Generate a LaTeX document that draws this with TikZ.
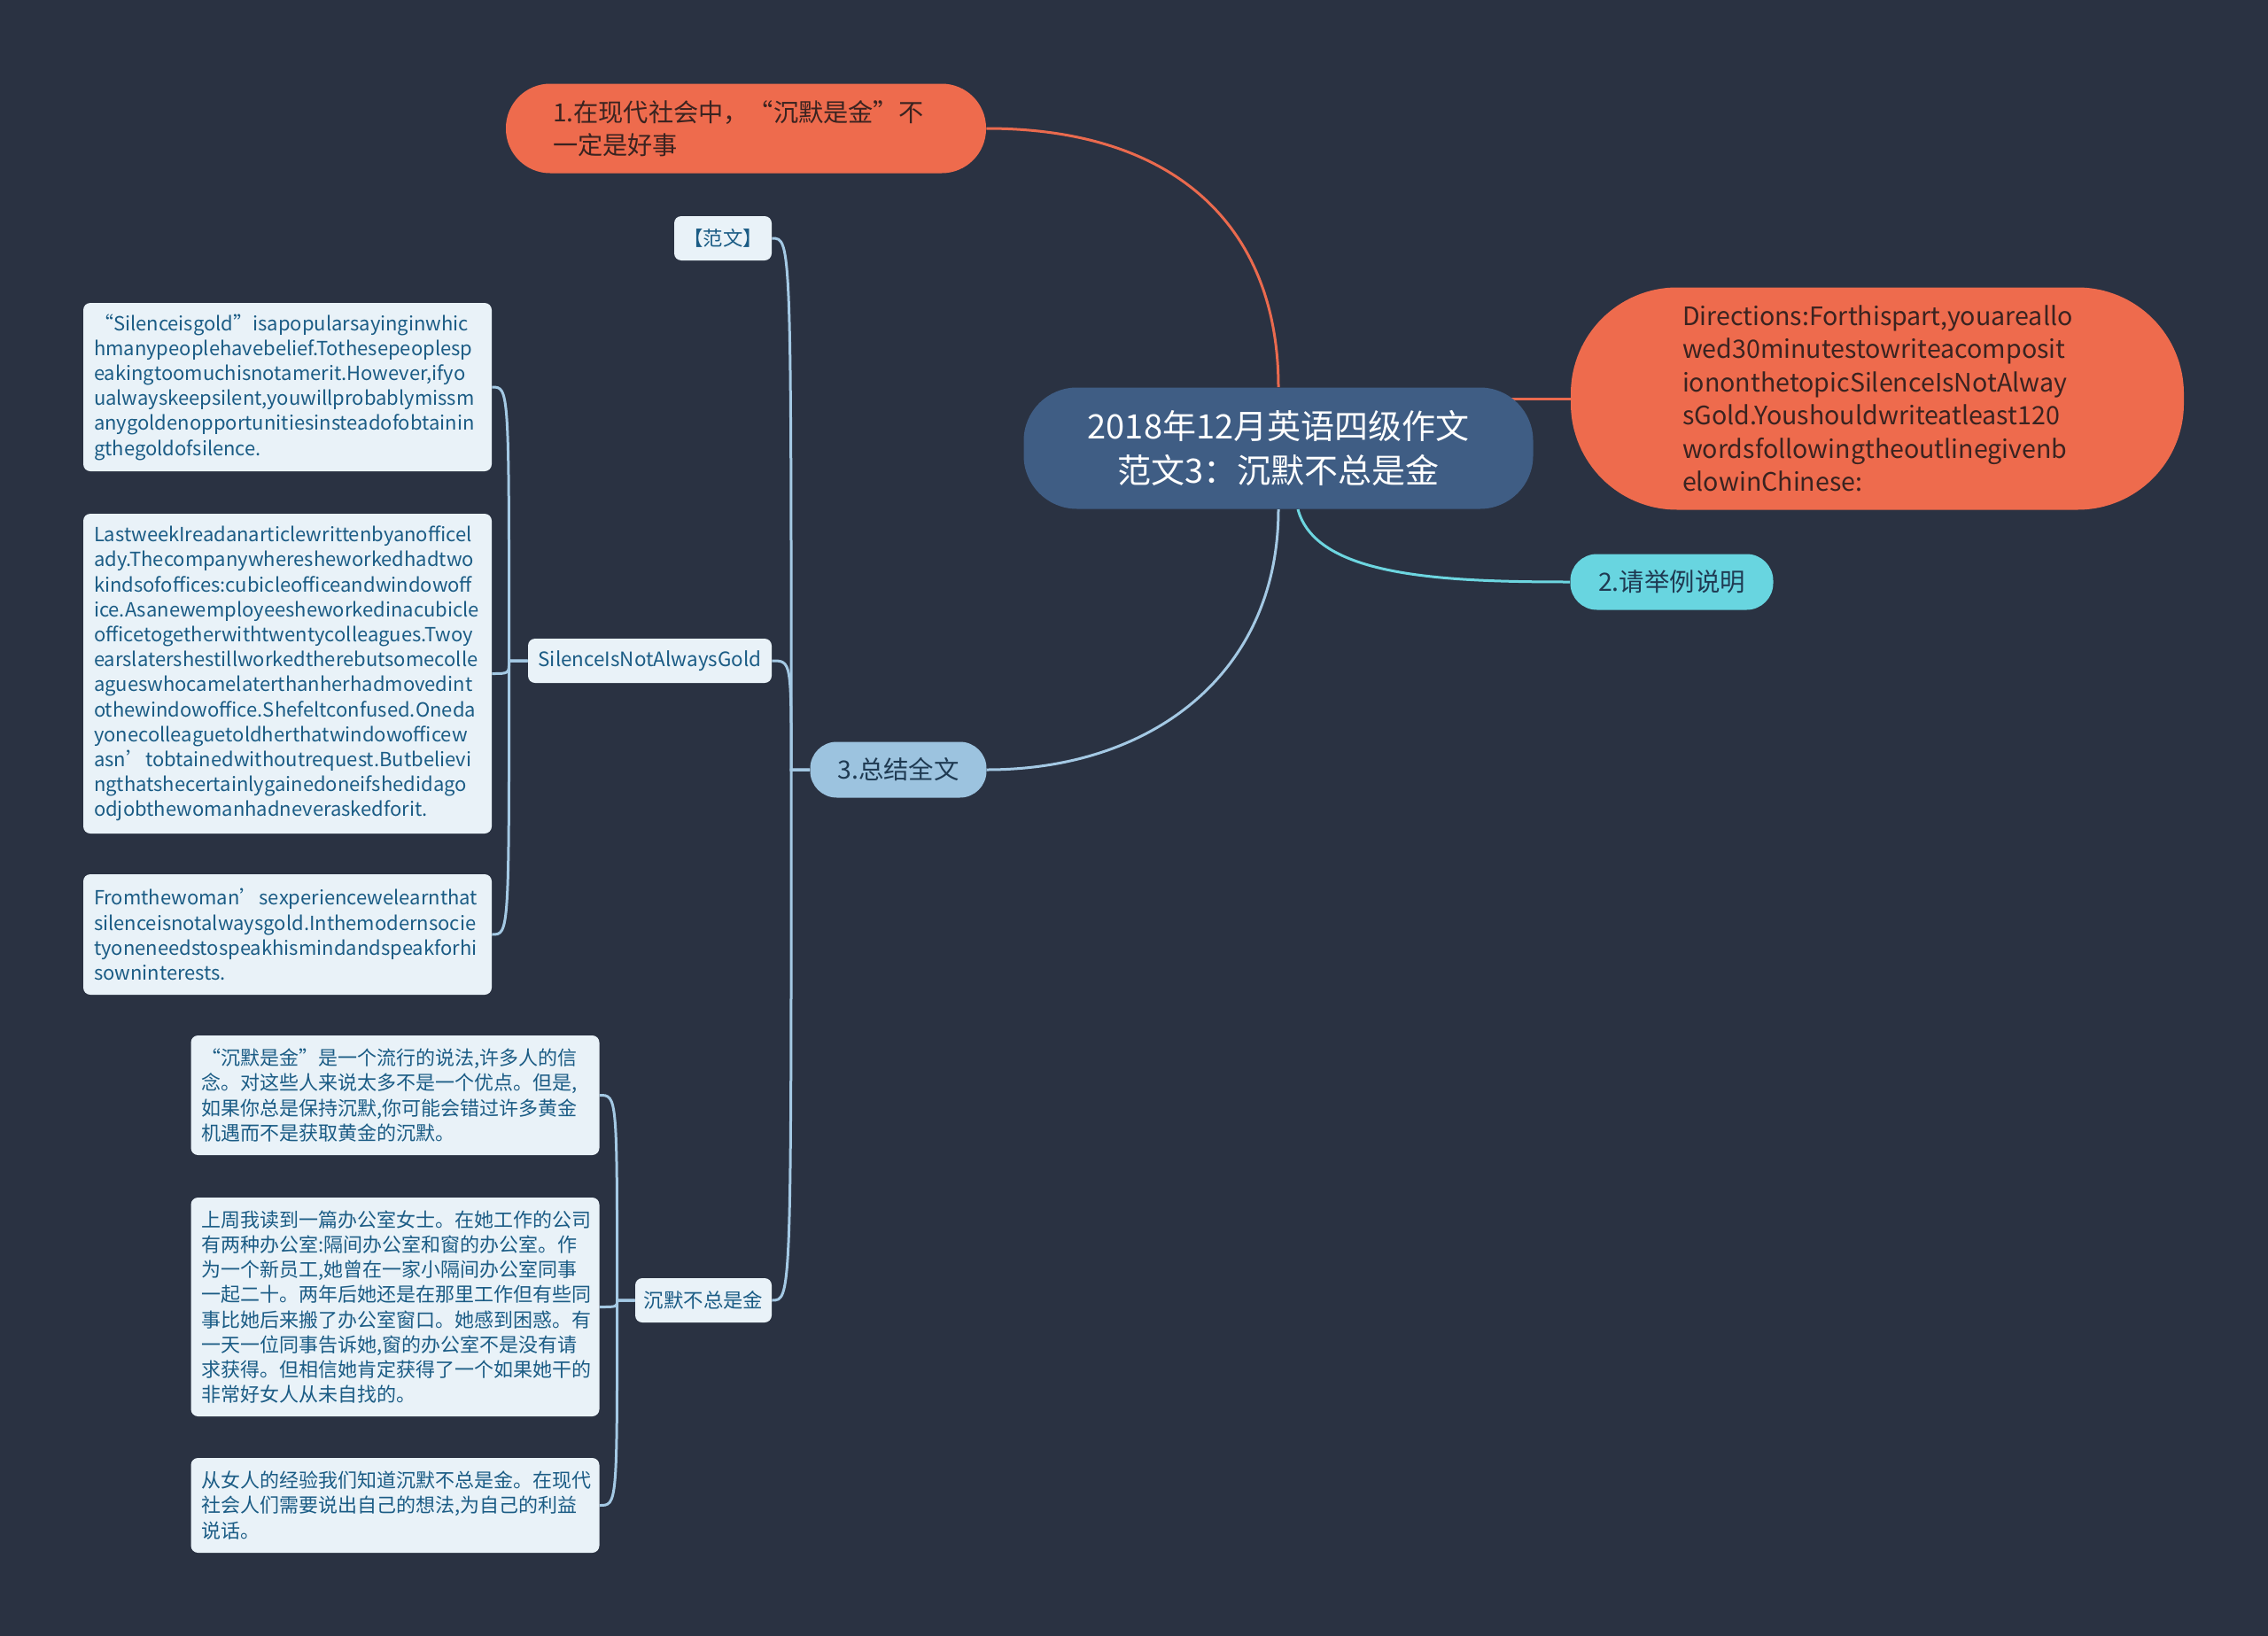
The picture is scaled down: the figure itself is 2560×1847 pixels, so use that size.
\documentclass[tikz,border=0pt]{standalone}
\usepackage{fontspec}
\setmainfont{Noto Sans CJK SC}
\definecolor{bgc}{HTML}{2A3242}
\definecolor{rootblue}{HTML}{3F5D84}
\definecolor{hotfill}{HTML}{EE6B4D}
\definecolor{hottext}{HTML}{3A2320}
\definecolor{cyanfill}{HTML}{68D5E0}
\definecolor{skyfill}{HTML}{9CC3DF}
\definecolor{subtext}{HTML}{1F3A52}
\definecolor{leaffill}{HTML}{E9F2F8}
\definecolor{leaftext}{HTML}{1B5C85}
\definecolor{orangeedge}{HTML}{EA6A4E}
\definecolor{cyanedge}{HTML}{6DD6E0}
\definecolor{blueedge}{HTML}{A4C9E4}
\pgfdeclarelayer{back}
\pgfdeclarelayer{links}
\pgfsetlayers{back,links,main}

\begin{document}
\begin{tikzpicture}[x=0.5pt,y=-0.5pt,
  mainnode/.style={fill=rootblue,text=white,rounded corners=30pt,align=center,
    minimum width=287.5pt,minimum height=68.5pt,font=\fontsize{19}{25.3}\selectfont},
  hotnode/.style={fill=hotfill,text=hottext,align=left},
  pillnode/.style={text=subtext,rounded corners=15pt,minimum height=31.5pt,
    font=\fontsize{14.2}{18}\selectfont},
  tagnode/.style={fill=leaffill,text=leaftext,rounded corners=4pt,minimum height=25pt,
    inner xsep=2pt,font=\fontsize{11.2}{14}\selectfont},
  leafnode/.style={fill=leaffill,text=leaftext,rounded corners=4pt,text width=218.5pt,
    inner xsep=6pt,align=left,font=\fontsize{11}{14.1}\selectfont},
  orangelink/.style={draw=orangeedge,line width=1.5pt},
  cyanlink/.style={draw=cyanedge,line width=1.5pt},
  bluelink/.style={draw=blueedge,line width=1.5pt}]
  \useasboundingbox (0,0) rectangle (2560,1847);
  \begin{pgfonlayer}{back}
    \fill[bgc] (0,0) rectangle (2560,1847);
  \end{pgfonlayer}

  \node[mainnode] (root) at (1443,506) {2018年12月英语四级作文\\范文3：沉默不总是金};
  \node[hotnode,rounded corners=25pt,text width=218pt,inner xsep=26.5pt,minimum height=50.5pt,
    font=\fontsize{14.1}{18.8}\selectfont] (n1) at (842,145)
    {1.在现代社会中，“沉默是金”不\\一定是好事};
  \node[hotnode,rounded corners=60pt,text width=220pt,inner xsep=63pt,minimum height=125.5pt,
    font=\fontsize{14.3}{18.75}\selectfont] (dir) at (2119,450)
    {Directions:Forthispart,youareallo\\wed30minutestowriteacomposit\\iononthetopicSilenceIsNotAlway\\sGold.Youshouldwriteatleast120\\wordsfollowingtheoutlinegivenb\\elowinChinese:};
  \node[pillnode,fill=cyanfill,minimum width=114.5pt] (n2) at (1887,657) {2.请举例说明};
  \node[pillnode,fill=skyfill,minimum width=99.5pt] (n3) at (1014,869) {3.总结全文};

  \node[tagnode,minimum width=55pt] (fw) at (816,269) {【范文】};
  \node[tagnode,minimum width=137.5pt] (sg) at (733.5,746) {SilenceIsNotAlwaysGold};
  \node[tagnode,minimum width=77pt] (cm) at (794,1468) {沉默不总是金};

  \node[leafnode,minimum height=95pt] (e1) at (324.5,437)
    {“Silenceisgold”isapopularsayinginwhic\\hmanypeoplehavebelief.Tothesepeoplesp\\eakingtoomuchisnotamerit.However,ifyo\\ualwayskeepsilent,youwillprobablymissm\\anygoldenopportunitiesinsteadofobtainin\\gthegoldofsilence.};
  \node[leafnode,minimum height=180.5pt] (e2) at (324.5,760.5)
    {LastweekIreadanarticlewrittenbyanofficel\\ady.Thecompanywheresheworkedhadtwo\\kindsofoffices:cubicleofficeandwindowoff\\ice.Asanewemployeesheworkedinacubicle\\officetogetherwithtwentycolleagues.Twoy\\earslatershestillworkedtherebutsomecolle\\agueswhocamelaterthanherhadmovedint\\othewindowoffice.Shefeltconfused.Oneda\\yonecolleaguetoldherthatwindowofficew\\asn’tobtainedwithoutrequest.Butbelievi\\ngthatshecertainlygainedoneifshedidago\\odjobthewomanhadneveraskedforit.};
  \node[leafnode,minimum height=68pt] (e3) at (324.5,1055)
    {Fromthewoman’sexperiencewelearnthat\\silenceisnotalwaysgold.Inthemodernsocie\\tyoneneedstospeakhismindandspeakforhi\\sowninterests.};

  \node[leafnode,minimum height=67.5pt] (c1) at (446,1236.5)
    {“沉默是金”是一个流行的说法,许多人的信\\念。对这些人来说太多不是一个优点。但是,\\如果你总是保持沉默,你可能会错过许多黄金\\机遇而不是获取黄金的沉默。};
  \node[leafnode,minimum height=123.5pt] (c2) at (446,1475.5)
    {上周我读到一篇办公室女士。在她工作的公司\\有两种办公室:隔间办公室和窗的办公室。作\\为一个新员工,她曾在一家小隔间办公室同事\\一起二十。两年后她还是在那里工作但有些同\\事比她后来搬了办公室窗口。她感到困惑。有\\一天一位同事告诉她,窗的办公室不是没有请\\求获得。但相信她肯定获得了一个如果她干的\\非常好女人从未自找的。};
  \node[leafnode,minimum height=53.5pt] (c3) at (446,1699.5)
    {从女人的经验我们知道沉默不总是金。在现代\\社会人们需要说出自己的想法,为自己的利益\\说话。};

  \coordinate (t3) at ([xshift=-10.5pt]n3.west);
  \coordinate (t4) at ([xshift=-10.5pt]sg.west);
  \coordinate (t5) at ([xshift=-10pt]cm.west);

  \begin{pgfonlayer}{links}
    \draw[orangelink] (n1.east) .. controls +(217,0) and +(0,-178) .. (root.north);
    \draw[orangelink] (root.center |- dir.west) -- (dir.west);
    \draw[cyanlink] ([xshift=11pt]root.south) .. controls +(20,75) and +(-150,0) .. (n2.west);
    \draw[bluelink] (root.south) .. controls +(0,185) and +(187,0) .. (n3.east);
    \draw[bluelink] (n3.west) -- (t3) .. controls (t3 |- fw.east) .. (fw.east);
    \draw[bluelink] (n3.west) -- (t3) .. controls (t3 |- sg.east) .. (sg.east);
    \draw[bluelink] (n3.west) -- (t3) .. controls (t3 |- cm.east) .. (cm.east);
    \draw[bluelink] (sg.west) -- (t4) .. controls (t4 |- e1.east) .. (e1.east);
    \draw[bluelink] (sg.west) -- (t4) .. controls (t4 |- e2.east) .. (e2.east);
    \draw[bluelink] (sg.west) -- (t4) .. controls (t4 |- e3.east) .. (e3.east);
    \draw[bluelink] (cm.west) -- (t5) .. controls (t5 |- c1.east) .. (c1.east);
    \draw[bluelink] (cm.west) -- (t5) .. controls (t5 |- c2.east) .. (c2.east);
    \draw[bluelink] (cm.west) -- (t5) .. controls (t5 |- c3.east) .. (c3.east);
  \end{pgfonlayer}
\end{tikzpicture}
\end{document}
